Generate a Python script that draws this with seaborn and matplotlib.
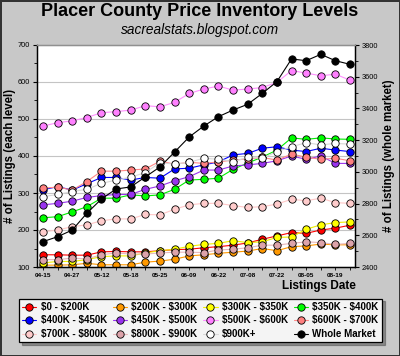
import matplotlib
matplotlib.use("Agg")
import matplotlib.pyplot as plt
from matplotlib.lines import Line2D
from matplotlib.ticker import MultipleLocator, FixedLocator
import seaborn as sns
import pandas as pd

# ---------------- data ----------------
tick_labels = ["04-15", "04-27", "05-12", "05-18", "05-25", "06-09",
               "06-22", "07-08", "07-22", "08-05", "08-19"]

levels = ["$0 - $200K", "$200K - $300K", "$300K - $350K", "$350K - $400K",
          "$400K - $450K", "$450K - $500K", "$500K - $600K", "$600K - $700K",
          "$700K - $800K", "$800K - $900K", "$900K+"]

lvl_0_200 = [133, 133, 132, 132, 141, 142, 141, 141, 144, 147, 148, 152, 155, 159, 165, 175, 184, 193, 191, 200, 205, 213]
lvl_200_300 = [105, 105, 106, 110, 106, 106, 106, 113, 116, 121, 130, 133, 137, 140, 143, 150, 144, 155, 157, 162, 160, 160]
lvl_300_350 = [111, 115, 115, 120, 128, 130, 130, 138, 144, 148, 156, 161, 164, 171, 166, 168, 180, 181, 202, 214, 220, 222]
lvl_350_400 = [233, 236, 249, 263, 286, 286, 295, 292, 295, 310, 335, 337, 340, 364, 381, 397, 416, 449, 445, 449, 446, 445]
lvl_400_450 = [309, 317, 308, 325, 342, 342, 335, 342, 340, 365, 367, 376, 384, 403, 407, 421, 425, 416, 412, 421, 416, 412]
lvl_450_500 = [268, 272, 278, 288, 293, 296, 296, 310, 319, 333, 344, 362, 362, 373, 376, 380, 387, 400, 391, 400, 380, 380]
lvl_500_600 = [481, 490, 495, 504, 517, 520, 524, 536, 533, 545, 569, 581, 589, 578, 581, 585, 599, 631, 624, 617, 621, 605]
lvl_600_700 = [313, 316, 308, 331, 359, 359, 362, 365, 386, 378, 383, 380, 384, 389, 392, 396, 389, 405, 397, 391, 394, 387]
lvl_700_800 = [195, 200, 209, 214, 225, 230, 230, 242, 241, 256, 268, 272, 272, 266, 261, 263, 270, 283, 279, 286, 274, 272]
lvl_800_900 = [120, 120, 124, 122, 133, 138, 135, 135, 138, 140, 140, 139, 146, 148, 152, 159, 159, 164, 168, 166, 161, 164]
lvl_900_up = [290, 296, 304, 310, 326, 335, 343, 355, 382, 378, 383, 394, 391, 385, 396, 394, 412, 425, 436, 430, 434, 432]
whole_market = [2560, 2591, 2633, 2739, 2829, 2892, 2905, 2968, 3031, 3125, 3220, 3289, 3348, 3390, 3426, 3495, 3569, 3712, 3701, 3741, 3701, 3678]

level_values = [lvl_0_200, lvl_200_300, lvl_300_350, lvl_350_400, lvl_400_450,
                lvl_450_500, lvl_500_600, lvl_600_700, lvl_700_800, lvl_800_900,
                lvl_900_up]

marker_colors = ["#ff0000", "#ff9900", "#ffff00", "#00ff00", "#0000ff", "#9933ee",
                 "#ff80ff", "#ff8080", "#ffcccc", "#dda3aa", "#ffffff"]
line_colors = ["#ff0000", "#ff9900", "#f0f000", "#00ee00", "#0000ff", "#9933ee",
               "#ff90ff", "#ff8888", "#ffc8c8", "#e8b8bc", "#d8d8d8"]

# ---------------- style ----------------
sns.set_theme(style="white")
plt.rcParams['font.family'] = ['Liberation Sans', 'DejaVu Sans']
plt.rcParams['text.parse_math'] = False
plt.rcParams['text.color'] = 'black'
plt.rcParams['axes.labelcolor'] = 'black'
plt.rcParams['xtick.color'] = 'black'
plt.rcParams['ytick.color'] = 'black'

BG = "#c8c8c8"
MS = 5.3
fig = plt.figure(figsize=(4, 3.56), dpi=100, facecolor=BG)
fig.patch.set_edgecolor("#333333")
fig.patch.set_linewidth(2)

ax = fig.add_axes([37 / 400, 1 - 267 / 356, (355 - 37) / 400, (267 - 45) / 356])
ax.set_facecolor("white")
ax2 = ax.twinx()

n = len(whole_market)
idx = list(range(n))

rows = []
for name, vals in zip(levels, level_values):
    for i, v in enumerate(vals):
        rows.append({"idx": i, "value": v, "level": name})
df = pd.DataFrame(rows)

for name, mc, lc in zip(levels, marker_colors, line_colors):
    sub = df[df["level"] == name]
    sns.lineplot(data=sub, x="idx", y="value", ax=ax, color=lc, linewidth=0.8,
                 marker="o", markersize=MS, markerfacecolor=mc,
                 markeredgecolor="black", markeredgewidth=0.6, legend=False)

wm = pd.DataFrame({"idx": idx, "value": whole_market})
sns.lineplot(data=wm, x="idx", y="value", ax=ax2, color="black", linewidth=0.8,
             marker="o", markersize=MS, markerfacecolor="black",
             markeredgecolor="black", markeredgewidth=0.6, legend=False)

# axes limits & ticks
ax.set_xlim(-0.41, n - 1 + 0.34)
ax.set_ylim(100, 700)
ax2.set_ylim(2400, 3800)

ax.yaxis.set_major_locator(MultipleLocator(100))
ax.yaxis.set_minor_locator(MultipleLocator(50))
ax2.yaxis.set_major_locator(MultipleLocator(200))
ax2.yaxis.set_minor_locator(MultipleLocator(100))

ax.xaxis.set_major_locator(FixedLocator(idx))
ax.set_xticklabels([tick_labels[i // 2] if i % 2 == 0 else "" for i in idx],
                   fontsize=4.6, fontweight="bold")

ax.tick_params(axis="y", which="major", length=3, width=0.8, color="black",
               labelsize=5.3, pad=2, left=True, direction="out", labelcolor="black")
ax.tick_params(axis="y", which="minor", length=2, width=0.6, color="black", left=True)
ax.tick_params(axis="x", which="major", length=2.5, width=0.6, color="black",
               bottom=True, pad=2, direction="out", labelcolor="black")
ax2.tick_params(axis="y", which="major", length=3, width=0.8, color="black",
                labelsize=5.3, pad=2, right=True, direction="out", labelcolor="black")
ax2.tick_params(axis="y", which="minor", length=2, width=0.6, color="black", right=True)

ax.yaxis.grid(True, color="#c4c4c4", linewidth=0.8)
ax.xaxis.grid(False)
ax.set_axisbelow(True)

ax.set_xlabel("")
ax.set_ylabel("")
ax2.set_ylabel("")

for a in (ax, ax2):
    for side, sp in a.spines.items():
        sp.set_visible(True)
        sp.set_linewidth(0.9)
        sp.set_color("black" if side != "top" else "#909090")

# texts
fig.text(0.5, 1 - 12 / 356, "Placer County Price Inventory Levels", ha="center",
         va="center", fontsize=13, fontweight="bold", color="black")
fig.text(0.5, 1 - 30 / 356, "sacrealstats.blogspot.com", ha="center", va="center",
         fontsize=9.8, style="italic", color="black")
fig.text(10 / 400, 1 - 156 / 356, "# of Listings (each level)", rotation=90,
         ha="center", va="center", fontsize=8.3, fontweight="bold", color="black")
fig.text(389 / 400, 1 - 156 / 356, "# of Listings (whole market)", rotation=90,
         ha="center", va="center", fontsize=8.3, fontweight="bold", color="black")
fig.text(356 / 400, 1 - 286 / 356, "Listings Date", ha="right", va="center",
         fontsize=8.5, fontweight="bold", color="black")

# legend (row-wise order like reference)
handles = []
for name, mc, lc in zip(levels, marker_colors, line_colors):
    handles.append(Line2D([], [], color=lc, lw=0.8, marker="o", markersize=MS,
                          markerfacecolor=mc, markeredgecolor="black",
                          markeredgewidth=0.6, label=name))
handles.append(Line2D([], [], color="black", lw=0.8, marker="o", markersize=MS,
                      markerfacecolor="black", markeredgecolor="black",
                      markeredgewidth=0.6, label="Whole Market"))
ncol = 4
nrow = 3
ordered = [handles[r * ncol + c] for c in range(ncol) for r in range(nrow)]
leg = fig.legend(handles=ordered, loc="center", bbox_to_anchor=(200.5 / 400, 1 - 320.5 / 356),
                 ncol=ncol, frameon=True, fancybox=False, shadow=True,
                 prop={"size": 7, "weight": "bold"}, handlelength=1.45,
                 handletextpad=0.45, columnspacing=0.6, labelspacing=0.35,
                 borderpad=0.35, borderaxespad=0)
for t in leg.get_texts():
    t.set_color("black")
leg.get_frame().set_facecolor("#f4f4f4")
leg.get_frame().set_edgecolor("black")
leg.get_frame().set_linewidth(0.9)
leg.get_frame().set_alpha(1)

fig.savefig("out.png", dpi=100, facecolor=BG, edgecolor=fig.patch.get_edgecolor())
